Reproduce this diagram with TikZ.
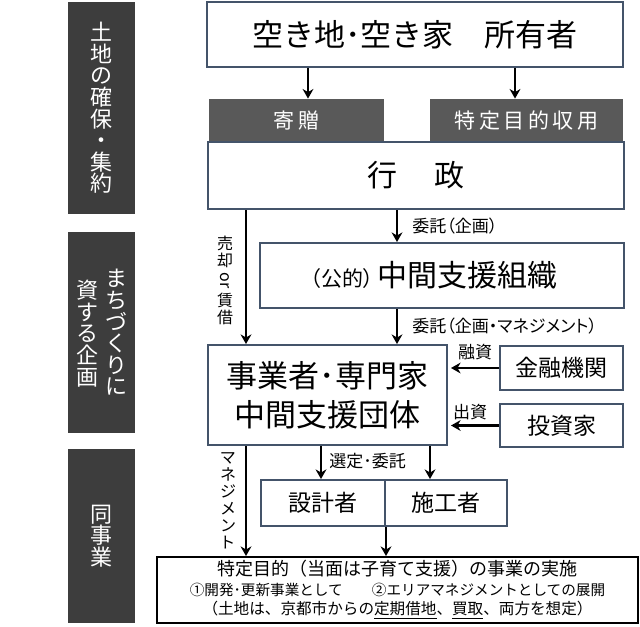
\documentclass[tikz,border=0pt]{standalone}
\usepackage{fontspec}
\setmainfont{Noto Sans CJK JP}
\newfontfamily\pfont[RawFeature=+palt]{Noto Sans CJK JP}
\usetikzlibrary{arrows.meta,positioning,calc}
\definecolor{barfill}{HTML}{3D3D3D}
\definecolor{tabfill}{HTML}{595959}
\definecolor{boxline}{HTML}{44546A}

\begin{document}
\begin{tikzpicture}[x=0.5pt,y=-0.5pt,>={Stealth[length=4.8pt,width=5.4pt]},
  box/.style={draw=boxline,line width=1pt,fill=white,inner sep=0pt,align=center},
  tab/.style={fill=tabfill,text=white,inner sep=0pt,
    font=\fontsize{10.5}{12}\selectfont\addfontfeature{LetterSpace=17}},
  sidebar/.style={fill=barfill,inner sep=0pt,minimum width=33.5pt},
  vlabel/.style={text=white,align=center,inner sep=0pt,font=\fontsize{11}{10.8}\selectfont},
  arr/.style={->,line width=1.1pt},
  lbl/.style={inner sep=0pt,font=\pfont\fontsize{8.5}{8.5}\selectfont}]

  \fill[white] (0,0) rectangle (640,626);
  \useasboundingbox (0,0) rectangle (640,626);

  % =====================================================================
  % Side bars
  % =====================================================================
  \node[sidebar,minimum height=106pt] (bar1) at (101.5,108) {};
  \node[vlabel] (bar1txt) at (bar1) {土\\地\\の\\確\\保\\・\\集\\約};

  \node[sidebar,minimum height=100.5pt] (bar2) at (101.5,332.5) {};
  \node[vlabel] (bar2r) at (116.5,332.5) {ま\\ち\\づ\\く\\り\\に};
  \node[vlabel] (bar2l) at (87,333.5) {資\\す\\る\\企\\画};

  \node[sidebar,minimum height=87pt] (bar3) at (101.5,536) {};
  \node[vlabel] (bar3txt) at (bar3) {同\\事\\業};

  % =====================================================================
  % Land: owner -> administration
  % =====================================================================
  \node[box,minimum width=208pt,minimum height=32.5pt,font=\fontsize{15.5}{16}\selectfont]
        (owner) at (415,34.5) {空き地･空き家　所有者};

  \node[tab,minimum width=87.5pt,minimum height=21.5pt] (kizo) at (296.5,120.5) {寄贈};
  \node[tab,minimum width=96.5pt,minimum height=21.5pt] (shuyo) at (526.5,120.5) {特定目的収用};

  \node[box,minimum width=208pt,minimum height=33.5pt,font=\fontsize{15}{16}\selectfont]
        (gyosei) at (416,175.5) {行\hspace{1.25em}政};

  \coordinate (xa) at (308,0);
  \coordinate (xb) at (515,0);
  \draw[arr] (owner.south -| xa) -- (kizo.north -| xa);
  \draw[arr] (owner.south -| xb) -- (shuyo.north -| xb);

  % =====================================================================
  % Planning
  % =====================================================================
  \node[box,minimum width=182pt,minimum height=32.5pt,font=\fontsize{15}{16}\selectfont]
        (chukan) at (442,275.5) {{\pfont\fontsize{10.5}{12}\selectfont（公的）}\hspace{2pt}中間支援組織\hspace{8pt}};

  \node[box,minimum width=119.5pt,minimum height=50pt,font=\fontsize{15.5}{19.5}\selectfont]
        (jigyo) at (327.5,395) {事業者･専門家\\中間支援団体};

  \node[box,minimum width=61.5pt,minimum height=22pt,font=\fontsize{11.5}{12}\selectfont]
        (kinyu) at (561.5,368) {金融機関};
  \node[box,minimum width=61.5pt,minimum height=21.5pt,font=\fontsize{11.5}{12}\selectfont]
        (toshi) at (561.5,425.5) {投資家};

  \coordinate (xc) at (246,0);
  \coordinate (xd) at (397,0);
  \draw[arr] (gyosei.south -| xc) -- (jigyo.north -| xc);
  \draw[arr] (gyosei.south -| xd) -- (chukan.north -| xd);
  \draw[arr] (chukan.south -| xd) -- (jigyo.north -| xd);
  \draw[arr] (kinyu.west) -- ($(jigyo.east |- kinyu.west)+(3,0)$);
  \draw[arr] (toshi.west) -- ($(jigyo.east |- toshi.west)+(3,0)$);

  \node[lbl,align=center,font=\pfont\fontsize{8}{8.5}\selectfont] (baikyaku) at (225,280)
        {売\\却\\[1pt]\rotatebox[origin=c]{-90}{or}\\[1pt]賃\\借};
  \node[lbl,anchor=west] (itaku1) at (412,226) {委託（企画）};
  \node[lbl,anchor=west] (itaku2) at (412,326) {委託（企画・マネジメント）};
  \node[lbl] (yushi) at (475,352) {融資};
  \node[lbl] (shusshi) at (470,412) {出資};

  % =====================================================================
  % Project
  % =====================================================================
  \node[box,minimum width=62pt,minimum height=23pt,font=\fontsize{11.5}{12}\selectfont]
        (sekkei) at (323,503) {設計者};
  \node[box,minimum width=61pt,minimum height=23pt,font=\fontsize{11.5}{12}\selectfont]
        (seko) at (446,503) {施工者};

  \node[draw=black,line width=1pt,fill=white,inner sep=0pt,align=center,
        minimum width=240.5pt,minimum height=33pt,font=\fontsize{7.3}{9.8}\selectfont]
        (jisshi) at (397.5,590)
        {{\fontsize{9}{9.8}\selectfont 特定目的（当面は子育て支援）の事業の実施}\\
         ①開発･更新事業として　　②エリアマネジメントとしての展開\\
         {\fontsize{7.8}{9.8}\selectfont（土地は、京都市からの\underline{定期借地}、\underline{買取}、両方を想定）}};

  \coordinate (xe) at (321,0);
  \coordinate (xf) at (430,0);
  \draw[arr] (jigyo.south -| xe) -- (sekkei.north -| xe);
  \draw[arr] (jigyo.south -| xf) -- (seko.north -| xf);
  \draw[arr] (jigyo.south -| xc) -- (jisshi.north -| xc);
  \draw[arr] (sekkei.south east) -- (sekkei.south east |- jisshi.north);

  \node[lbl,anchor=west] (sentei) at (329,461) {選定･委託};
  \node[lbl,align=center,font=\pfont\fontsize{8}{8.5}\selectfont] (manage) at (228,501) {マ\\ネ\\ジ\\メ\\ン\\ト};

\end{tikzpicture}
\end{document}
